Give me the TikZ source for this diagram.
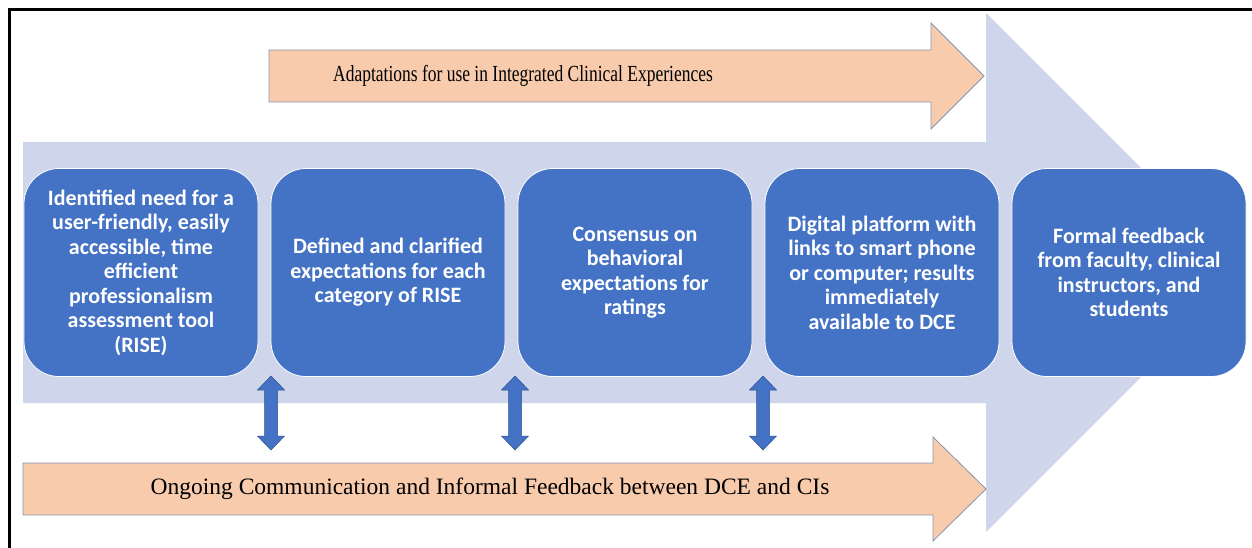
\documentclass[tikz,border=0pt]{standalone}
\usepackage{fontspec}
\setmainfont{Liberation Serif}
\newfontfamily\calibri{Carlito}
\usepackage{graphicx}
\definecolor{boxblue}{HTML}{4472C4}
\definecolor{bigarrow}{HTML}{CFD5EA}
\definecolor{peach}{HTML}{F8CBAD}
\definecolor{peachedge}{HTML}{8496B0}
\definecolor{arrowedge}{HTML}{2F528F}
\tikzset{
  stepbox/.style={draw=white, line width=0.8pt, fill=boxblue, rounded corners=35pt,
    minimum width=234pt, minimum height=208pt, text=white, inner sep=0pt,
    font=\calibri\bfseries\fontsize{22}{24.5}\selectfont, align=center},
  peacharrow/.style={fill=peach, draw=peachedge, line width=0.8pt},
  bandtext/.style={inner sep=0pt, text=black},
  dblarrow/.pic={
    \path[fill=boxblue, draw=arrowedge, line width=0.5pt]
      (0,0) -- (13.5,14) -- (6.5,14) -- (6.5,60) -- (13.5,60) -- (0,74)
      -- (-13.5,60) -- (-6.5,60) -- (-6.5,14) -- (-13.5,14) -- cycle;
  }
}
\begin{document}
\begin{tikzpicture}[x=1pt, y=-1pt]
\useasboundingbox (0,0) rectangle (1252,548);
% frame
\draw[line width=2.5pt] (9.5,548) -- (9.5,9.5) -- (1252,9.5);
% big background arrow
\fill[bigarrow] (23,142) -- (986,142) -- (986,13) -- (1245.5,272.5) -- (986,532) -- (986,403) -- (23,403) -- cycle;
% top orange arrow
\path[peacharrow] (269,50) -- (931,50) -- (931,23) -- (984,76) -- (931,129) -- (931,102) -- (269,102) -- cycle;
\node[bandtext, font=\fontsize{23}{27}\selectfont] (adapt) at (523,76)
  {\scalebox{0.76}[1]{Adaptations for use in Integrated Clinical Experiences}};
% bottom orange arrow
\path[peacharrow] (23,463) -- (933,463) -- (933,437) -- (986,489) -- (933,541) -- (933,515) -- (23,515) -- cycle;
\node[bandtext, font=\fontsize{23.5}{28}\selectfont] (ongoing) at (490,489)
  {Ongoing Communication and Informal Feedback between DCE and CIs};
% step boxes
\node[stepbox] (b1) at (141,272.5) {Identified need for a\\user-friendly, easily\\accessible, time\\efficient\\professionalism\\assessment tool\\(RISE)};
\node[stepbox] (b2) at (388,272.5) {Defined and clarified\\expectations for each\\category of RISE};
\node[stepbox] (b3) at (635,272.5) {Consensus on\\behavioral\\expectations for\\ratings};
\node[stepbox] (b4) at (882,272.5) {Digital platform with\\links to smart phone\\or computer; results\\immediately\\available to DCE};
\node[stepbox] (b5) at (1129,272.5) {Formal feedback\\from faculty, clinical\\instructors, and\\students};
% double arrows
\pic (d1) at (271,376) {dblarrow};
\pic (d2) at (515,376) {dblarrow};
\pic (d3) at (763,376) {dblarrow};
\end{tikzpicture}
\end{document}
